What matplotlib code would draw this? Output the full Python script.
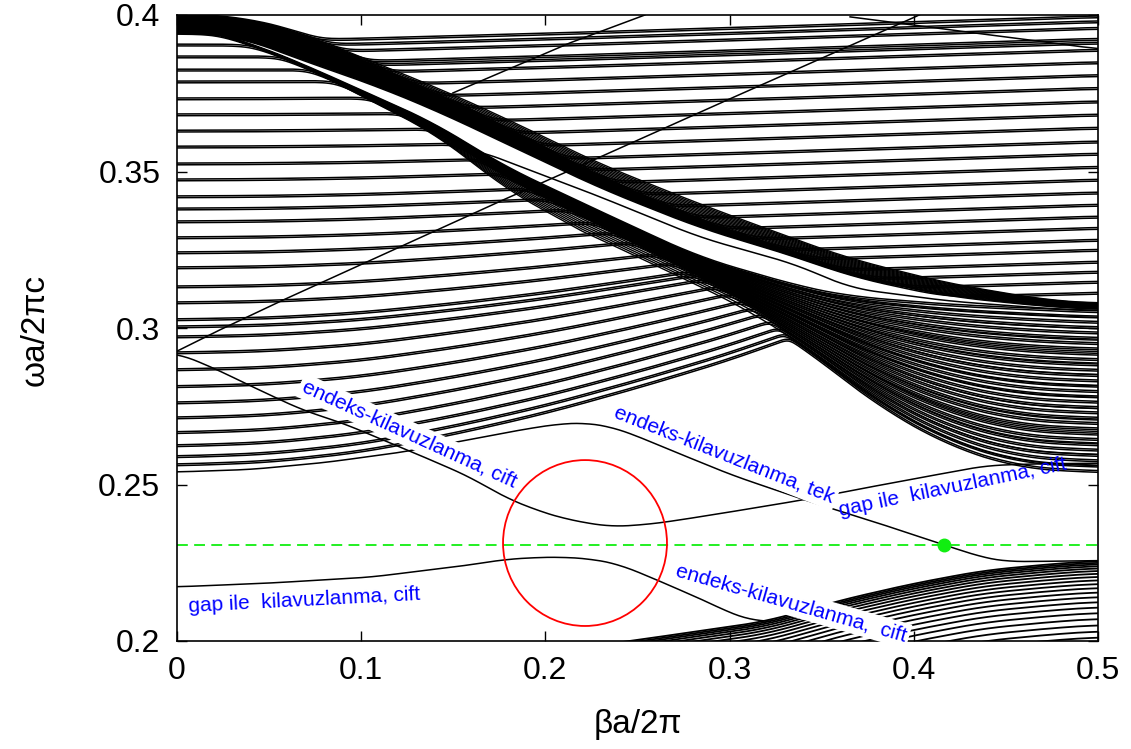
import numpy as np
import matplotlib
matplotlib.use('Agg')
import matplotlib.pyplot as plt
from matplotlib.patches import Ellipse

plt.rcParams['font.family'] = ['Liberation Sans', 'DejaVu Sans']

# ---------------- values ----------------
# upper diagonal bundle (top / bottom edge)
bund1_beta = [0.0, 0.033, 0.0687, 0.105, 0.1412, 0.1753, 0.2294, 0.2835, 0.3377, 0.3647, 0.4188, 0.4729, 0.5]
bund1_top = [0.4, 0.3994, 0.3942, 0.3856, 0.3770, 0.3681, 0.3527, 0.3399, 0.3281, 0.3224, 0.3144, 0.3089, 0.3080]
bund1_bot = [0.3946, 0.3936, 0.3856, 0.3783, 0.3696, 0.3601, 0.3450, 0.3323, 0.3227, 0.3169, 0.3099, 0.3067, 0.3058]

# lower diagonal bundle, it opens into the fan at the right
bund2_top_beta = [0.0, 0.0417, 0.0687, 0.105, 0.1412, 0.1753, 0.2294, 0.2835, 0.3377, 0.3647, 0.4188, 0.4729, 0.5]
bund2_top = [0.3978, 0.3904, 0.3840, 0.3744, 0.3649, 0.3521, 0.3371, 0.3224, 0.3131, 0.3099, 0.3073, 0.3058, 0.3051]
bund2_bot_beta = [0.0, 0.0417, 0.0687, 0.105, 0.1412, 0.1753, 0.2294, 0.2835, 0.3106, 0.3420, 0.3804, 0.4188, 0.4573, 0.5]
bund2_bot = [0.3936, 0.3850, 0.3776, 0.3681, 0.3585, 0.3425, 0.3281, 0.3131, 0.3051, 0.2930, 0.2754, 0.2626, 0.2555, 0.2540]

# flat bands: level at beta=0 (left edge) and at beta=0.5 (right edge)
left_levels = [0.3942, 0.3904, 0.3866, 0.3824, 0.3786, 0.3732, 0.3681, 0.3629, 0.3578, 0.3524,
               0.3473, 0.3419, 0.3380, 0.3339, 0.3288, 0.3240, 0.3192, 0.3131, 0.3080, 0.3026,
               0.3003, 0.2971, 0.2920, 0.2866, 0.2812, 0.2760, 0.2712, 0.2665, 0.2623, 0.2588, 0.2562]
right_levels = [0.3995, 0.3979, 0.3958, 0.3923, 0.3911, 0.3888, 0.3848, 0.3807, 0.3766, 0.3723,
                0.3681, 0.3639, 0.3595, 0.3556, 0.3514, 0.3473, 0.3432, 0.3393, 0.3355, 0.3319,
                0.3281, 0.3249, 0.3211, 0.3179, 0.3147, 0.3112]

# how much the left bands climb to the right (shape, and size per starting level)
rise_beta = [0.0, 0.05, 0.10, 0.15, 0.20, 0.25, 0.30, 0.35, 0.40, 0.50]
rise_shape = [0.0, 0.03, 0.12, 0.28, 0.47, 0.70, 0.95, 1.25, 1.6, 2.4]
rise_amp_level = [0.254, 0.27, 0.29, 0.31, 0.33, 0.36, 0.40]
rise_amp = [0.036, 0.032, 0.024, 0.015, 0.008, 0.003, 0.001]

# right bands sit this much lower than their edge value
sag_beta = [0.0, 0.1, 0.2, 0.3, 0.4, 0.5]
sag_val = [0.0085, 0.0072, 0.0056, 0.0038, 0.0019, 0.0]

# bottom right bundle: right edge levels and common drop towards the left
low_levels = [0.2256, 0.2251, 0.2246, 0.2240, 0.2233, 0.2225, 0.2216, 0.2206, 0.2195, 0.2183,
              0.2170, 0.2156, 0.2141, 0.2125, 0.2108, 0.2090, 0.2071, 0.2051, 0.2031, 0.2012]
low_drop_beta = [0.0, 0.246, 0.3203, 0.3594, 0.3985, 0.4376, 0.4767, 0.5]
low_drop = [0.046, 0.0256, 0.0193, 0.0127, 0.0074, 0.0031, 0.0009, 0.0]

# guided modes
modeA_beta = [0.0, 0.020, 0.041, 0.068, 0.090, 0.112, 0.134, 0.159, 0.177, 0.195, 0.212, 0.235,
              0.255, 0.270, 0.300, 0.341, 0.370, 0.400, 0.439, 0.460, 0.480, 0.500]
modeA_f = [0.2920, 0.2872, 0.2812, 0.2738, 0.2696, 0.2642, 0.2588, 0.2524, 0.2462, 0.2418, 0.2388, 0.2365,
           0.2372, 0.2384, 0.2412, 0.2452, 0.2485, 0.2518, 0.2560, 0.2565, 0.2567, 0.2568]
modeB_beta = [0.0, 0.040, 0.080, 0.123, 0.160, 0.190, 0.208, 0.222, 0.235, 0.2454, 0.270, 0.3013,
              0.341, 0.380, 0.4164, 0.438, 0.450, 0.465, 0.500]
modeB_f = [0.2540, 0.2548, 0.2570, 0.2604, 0.2645, 0.2678, 0.2694, 0.2697, 0.2685, 0.2665, 0.2605, 0.2530,
           0.2450, 0.2378, 0.2307, 0.2266, 0.2254, 0.2254, 0.2257]
modeC_beta = [0.0, 0.050, 0.105, 0.159, 0.177, 0.195, 0.210, 0.225, 0.240, 0.2606, 0.2894, 0.3018, 0.312, 0.322]
modeC_f = [0.2173, 0.2185, 0.2204, 0.2243, 0.2260, 0.2267, 0.2268, 0.2262, 0.2245, 0.2195, 0.2121, 0.2085, 0.2066, 0.2062]

# thin lines
light1_beta = [0.0, 0.0233, 0.0575, 0.177, 0.2296, 0.2986, 0.4007, 0.41]
light1_f = [0.2926, 0.2994, 0.3089, 0.3409, 0.3546, 0.3728, 0.3994, 0.402]
light2_beta = [0.1498, 0.2134, 0.254]
light2_f = [0.3751, 0.3911, 0.4]
fall_beta = [0.3654, 0.4919, 0.5]
fall_f = [0.3994, 0.3898, 0.3893]
gap_beta = [0.16, 0.2294, 0.2835, 0.3377, 0.3647, 0.4188, 0.4729, 0.5]
gap_f = [0.3575, 0.3420, 0.3290, 0.3200, 0.3128, 0.3086, 0.3062, 0.3056]

green_level = 0.2307
dot_beta, dot_f = 0.4164, 0.2307

labels = ["endeks-kilavuzlanma, cift", "endeks-kilavuzlanma, tek", "gap ile  kilavuzlanma, cift",
          "endeks-kilavuzlanma,  cift", "gap ile  kilavuzlanma, cift"]
label_beta = [0.126, 0.297, 0.4213, 0.3333, 0.0689]
label_f = [0.2661, 0.2594, 0.2492, 0.2121, 0.2131]
label_rot = [-24.5, -21.5, 11.6, -16.0, 3.0]
label_box = [True, True, False, True, True]

xticks = [0, 0.1, 0.2, 0.3, 0.4, 0.5]
xticklabels = ['0', '0.1', '0.2', '0.3', '0.4', '0.5']
yticks = [0.2, 0.25, 0.3, 0.35, 0.4]
yticklabels = ['0.2', '0.25', '0.3', '0.35', '0.4']


def soft_min(a, b, k=0.0009):
    return -k * np.logaddexp(-a / k, -b / k)


def soft_max(a, b, k=0.0009):
    return k * np.logaddexp(a / k, b / k)


def smooth(y, width):
    # running mean, only to round off the corners between read points
    pad = width // 2
    yp = np.pad(y, pad, mode='edge')
    return np.convolve(yp, np.ones(width) / width, mode='valid')


def curve(xs, ys, x, width=25):
    return smooth(np.interp(x, xs, ys), width)


def double_line(ax, x, y, split=0.00028):
    # the bands are drawn as close pairs in the original
    ax.plot(x, y + split, color='black', lw=1.1, solid_capstyle='butt')
    ax.plot(x, y - split, color='black', lw=1.1, solid_capstyle='butt')


fig = plt.figure(figsize=(11.31, 7.49), dpi=100)
ax = fig.add_axes([177 / 1131, 1 - 641 / 749, 921 / 1131, 626 / 749])

grid = np.linspace(0.0, 0.5, 501)

# upper bundle + the bands that leave it towards the upper right
u1 = curve(bund1_beta, bund1_top, grid, 41)
l1 = curve(bund1_beta, bund1_bot, grid, 41)
sag = curve(sag_beta, sag_val, grid, 41)
n = len(right_levels)
for i, b in enumerate(right_levels):
    w = i / (n - 1)
    double_line(ax, grid, soft_max(u1 + w * (l1 - u1), b - sag))
for k in range(16):
    w = (k + 0.5) / 16
    ax.plot(grid, u1 + w * (l1 - u1), color='black', lw=1.0)

# lower bundle: bands from the left edge bend into it and fan out to the right
u2 = curve(bund2_top_beta, bund2_top, grid, 41)
l2 = curve(bund2_bot_beta, bund2_bot, grid, 41)
shape = curve(rise_beta, rise_shape, grid, 41)
m = len(left_levels)
for i, a in enumerate(left_levels):
    w = i / (m - 1)
    flat = a + np.interp(a, rise_amp_level, rise_amp) * shape
    double_line(ax, grid, soft_min(flat, u2 + w * (l2 - u2)))
# extra lines inside the bundle, peeling off its top edge as it widens
spread = np.clip((grid - 0.06) / 0.16, 0.0, 1.0)
for k in range(14):
    w = (k + 0.5) / 14 * spread
    ax.plot(grid, u2 + w * (l2 - u2), color='black', lw=1.0)

# bottom right bundle
drop = curve(low_drop_beta, low_drop, grid, 31)
for e in low_levels:
    ax.plot(grid, e - drop, color='black', lw=1.3)

# thin lines and guided modes
thin_kw = dict(color='black', lw=1.1)
ax.plot(light1_beta, light1_f, **thin_kw)
ax.plot(light2_beta, light2_f, **thin_kw)
ax.plot(fall_beta, fall_f, **thin_kw)
gap_grid = grid[grid >= gap_beta[0]]
ax.plot(gap_grid, curve(gap_beta, gap_f, gap_grid, 31), **thin_kw)
ax.plot(grid, curve(modeA_beta, modeA_f, grid, 21), **thin_kw)
ax.plot(grid, curve(modeB_beta, modeB_f, grid, 21), **thin_kw)
c_grid = grid[grid <= modeC_beta[-1]]
ax.plot(c_grid, curve(modeC_beta, modeC_f, c_grid, 21), **thin_kw)

ax.axhline(green_level, color='#11ee11', lw=1.3, dashes=(6, 3.5), zorder=2.3)
ax.plot([dot_beta], [dot_f], 'o', color='#11ee11', markersize=9, zorder=2.6)
ax.add_patch(Ellipse((0.2215, 0.2313), 0.089, 0.053, fill=False, edgecolor='red', lw=1.3, zorder=2.4))

for txt, bx, fy, rot, box in zip(labels, label_beta, label_f, label_rot, label_box):
    kw = dict(fontsize=15, color='blue', rotation=rot, rotation_mode='anchor',
              ha='center', va='center', zorder=3)
    if box:
        kw['bbox'] = dict(boxstyle='square,pad=0.15', fc='white', ec='none')
    ax.text(bx, fy, txt, **kw)

ax.set_xlim(0, 0.5)
ax.set_ylim(0.2, 0.4)
ax.set_xticks(xticks)
ax.set_xticklabels(xticklabels)
ax.set_yticks(yticks)
ax.set_yticklabels(yticklabels)
ax.tick_params(direction='in', length=7, width=1.0, top=True, right=True, labelsize=23)
ax.tick_params(axis='x', pad=11)
ax.tick_params(axis='y', pad=12)
for s in ax.spines.values():
    s.set_linewidth(1.2)

ax.set_xlabel('βa/2π', fontsize=24)
ax.xaxis.set_label_coords(0.5, -0.108)
fig.text(35 / 1131, 1 - 330 / 749, 'ωa/2πc', rotation=90, ha='center', va='center', fontsize=24)

fig.savefig('out.png', dpi=100)
